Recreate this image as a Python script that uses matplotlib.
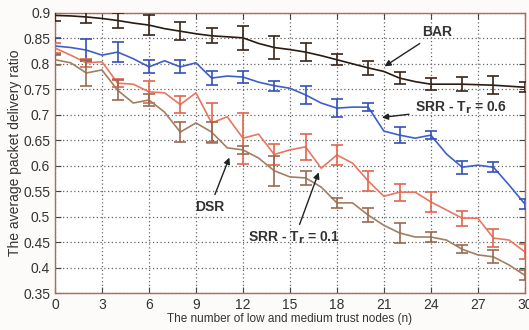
import numpy as np
import matplotlib
matplotlib.use('Agg')
import matplotlib.pyplot as plt

n_nodes = np.arange(0, 31)

bar_ratio = [0.895, 0.894, 0.892, 0.889, 0.885, 0.880, 0.876, 0.869, 0.864, 0.859,
             0.855, 0.853, 0.851, 0.840, 0.832, 0.828, 0.823, 0.816, 0.808, 0.800,
             0.792, 0.785, 0.772, 0.765, 0.760, 0.760, 0.760, 0.759, 0.758, 0.756, 0.754]
srr06_ratio = [0.835, 0.832, 0.827, 0.817, 0.823, 0.810, 0.794, 0.806, 0.794, 0.802,
               0.772, 0.776, 0.774, 0.764, 0.757, 0.752, 0.739, 0.723, 0.713, 0.715,
               0.715, 0.668, 0.660, 0.654, 0.660, 0.623, 0.597, 0.601, 0.597, 0.562, 0.525]
srr01_ratio = [0.831, 0.817, 0.802, 0.804, 0.762, 0.760, 0.745, 0.743, 0.720, 0.743,
               0.684, 0.696, 0.654, 0.662, 0.622, 0.631, 0.637, 0.595, 0.621, 0.605,
               0.570, 0.540, 0.548, 0.548, 0.529, 0.513, 0.497, 0.497, 0.458, 0.454, 0.431]
dsr_ratio = [0.808, 0.802, 0.782, 0.788, 0.748, 0.723, 0.729, 0.705, 0.666, 0.684,
             0.666, 0.635, 0.631, 0.615, 0.590, 0.578, 0.576, 0.558, 0.527, 0.527,
             0.503, 0.483, 0.468, 0.460, 0.460, 0.454, 0.436, 0.425, 0.421, 0.405, 0.385]

# error half-widths at even n (0, 2, ..., 30)
bar_err = [0.010, 0.012, 0.015, 0.020, 0.018, 0.015, 0.023, 0.022, 0.018, 0.011,
           0.014, 0.012, 0.012, 0.014, 0.018, 0.010]
srr06_err = [0.015, 0.022, 0.020, 0.013, 0.013, 0.014, 0.012, 0.010, 0.018, 0.017,
             0.008, 0.015, 0.008, 0.013, 0.010, 0.010]
srr01_err = [0.010, 0.008, 0.008, 0.022, 0.017, 0.040, 0.050, 0.020, 0.025, 0.020,
             0.020, 0.017, 0.020, 0.015, 0.017, 0.015]
dsr_err = [0.010, 0.025, 0.020, 0.012, 0.020, 0.019, 0.008, 0.030, 0.014, 0.010,
           0.014, 0.020, 0.010, 0.008, 0.013, 0.010]

x_ticks = [0, 3, 6, 9, 12, 15, 18, 21, 24, 27, 30]
y_ticks = [0.35, 0.4, 0.45, 0.5, 0.55, 0.6, 0.65, 0.7, 0.75, 0.8, 0.85, 0.9]
y_labels = ['0.35', '0.4', '0.45', '0.5', '0.55', '0.6', '0.65', '0.7', '0.75', '0.8', '0.85', '0.9']

plt.rcParams['font.family'] = ['Liberation Sans', 'DejaVu Sans']

fig = plt.figure(figsize=(5.29, 3.30), dpi=100)
fig.patch.set_facecolor('#fdfbf9')
ax = fig.add_axes([0.104, 0.112, 0.888, 0.849])

series = [
    (bar_ratio, bar_err, '#2a1a12', '#3a2418'),
    (srr06_ratio, srr06_err, '#3f5fc8', '#3452b8'),
    (srr01_ratio, srr01_err, '#ea7660', '#e0664e'),
    (dsr_ratio, dsr_err, '#a27e62', '#9a6a50'),
]
even = n_nodes[::2]
for vals, err, lc, ec in series:
    vals = np.array(vals)
    ax.plot(n_nodes, vals, color=lc, lw=1.2, zorder=3)
    ax.errorbar(even, vals[::2], yerr=err, fmt='none', ecolor=ec, elinewidth=1.2,
                capsize=4.5, capthick=1.2, zorder=3)

ax.set_xlim(0, 30)
ax.set_ylim(0.35, 0.9)
ax.set_xticks(x_ticks)
ax.set_yticks(y_ticks)
ax.set_yticklabels(y_labels)
ax.grid(True, linestyle=(0, (1, 2)), color='#666666', lw=0.9)
ax.tick_params(direction='in', top=True, right=True, labelsize=10, colors='#444444',
               length=4)
for lab in ax.get_xticklabels() + ax.get_yticklabels():
    lab.set_color('#333333')
for sp in ax.spines.values():
    sp.set_color('#b06a55')
    sp.set_linewidth(1.0)

ax.set_xlabel('The number of low and medium trust nodes (n)', fontsize=8.5,
              color='#333333', labelpad=1)
ax.set_ylabel('The average packet delivery ratio', fontsize=10, color='#333333',
              labelpad=1)

arrow = dict(arrowstyle='-|>', color='#222222', lw=1.0, mutation_scale=9)
ax.annotate('BAR', xy=(20.9, 0.792), xytext=(24.4, 0.862), fontsize=10,
            fontweight='bold', color='#333333', ha='center', va='center',
            arrowprops=arrow)
ax.annotate('SRR - T$_{\\mathbf{r}}$ = 0.6', xy=(20.7, 0.694), xytext=(25.9, 0.713),
            fontsize=10, fontweight='bold', color='#333333',
            ha='center', va='center', arrowprops=arrow)
ax.annotate('DSR', xy=(11.2, 0.621), xytext=(9.9, 0.519), fontsize=10,
            fontweight='bold', color='#333333', ha='center', va='center',
            arrowprops=arrow)
ax.annotate('SRR - T$_{\\mathbf{r}}$ = 0.1', xy=(16.9, 0.592), xytext=(15.3, 0.458),
            fontsize=10, fontweight='bold', color='#333333',
            ha='center', va='center', arrowprops=arrow)

fig.savefig('out.png', dpi=100, facecolor=fig.get_facecolor())
